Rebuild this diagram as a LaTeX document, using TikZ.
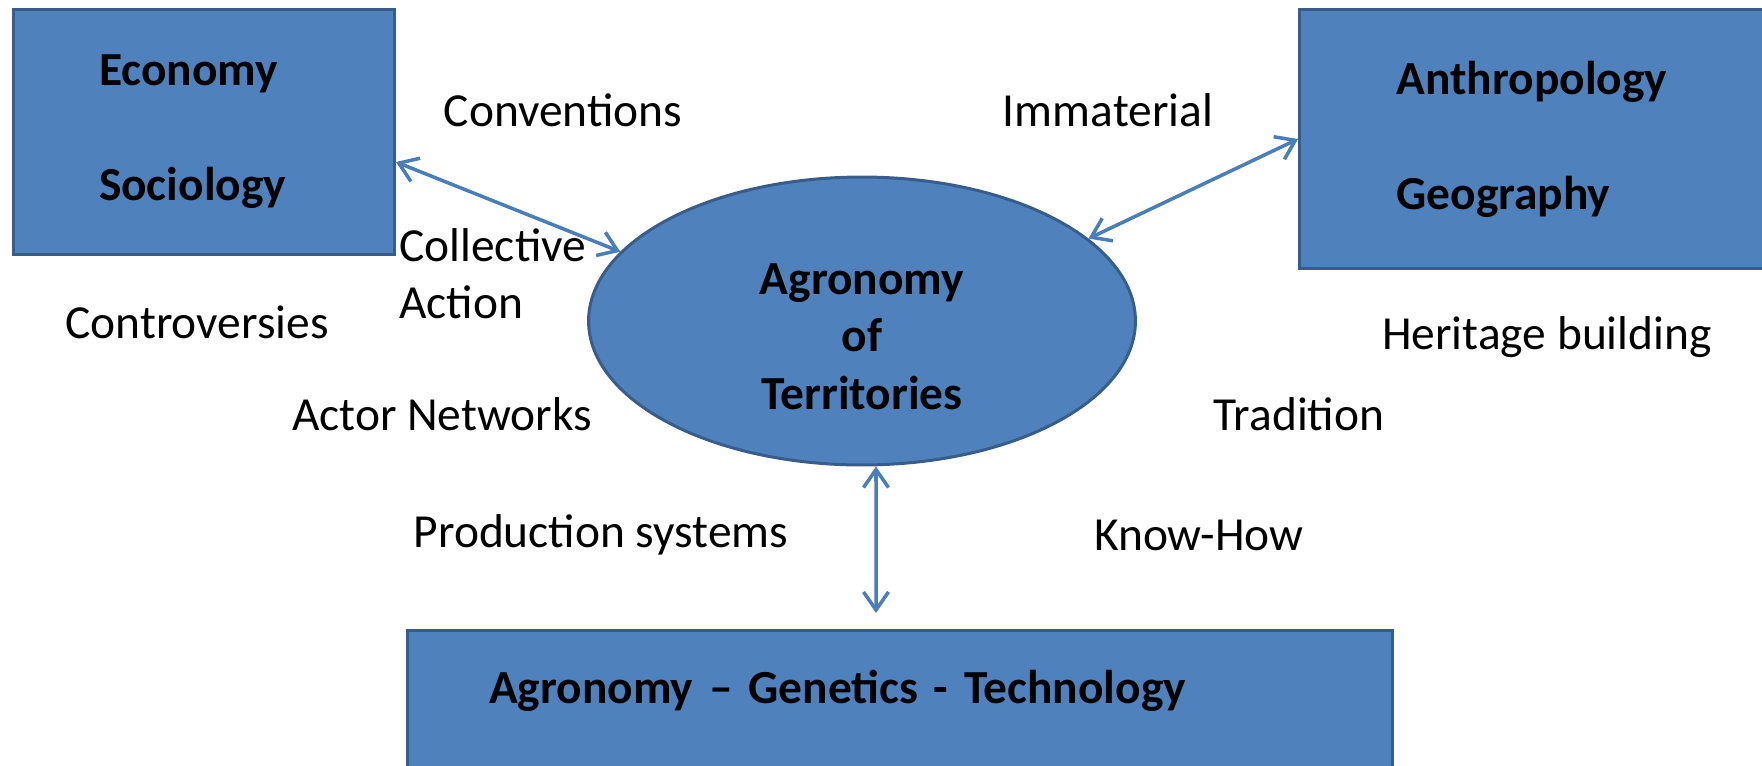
\documentclass[tikz,border=0pt]{standalone}
\usepackage{fontspec}
\setmainfont{Carlito}
\usetikzlibrary{shapes.geometric,arrows.meta}
\definecolor{boxblue}{HTML}{4F81BD}
\definecolor{boxline}{HTML}{385D8A}
\definecolor{arrowblue}{HTML}{4A7EBB}
\newcommand{\bigtext}{\fontsize{27}{32.5}\selectfont}
\tikzset{
	field/.style={draw=boxline, fill=boxblue, line width=1.7pt, font=\bigtext\bfseries, align=left, inner sep=0pt},
	hub/.style={ellipse, draw=boxline, fill=boxblue, line width=1.7pt, font=\bigtext\bfseries, align=center, inner sep=0pt, minimum width=10.94cm, minimum height=5.76cm},
	term/.style={font=\bigtext, inner sep=0pt},
	link/.style={arrowblue, line width=2pt, {Straight Barb[length=0.36cm,width=0.5cm]}-{Straight Barb[length=0.36cm,width=0.5cm]}}
}

\begin{document}
\begin{tikzpicture}[x=0.02cm, y=-0.02cm]
			%%%%% START %%%%%
			
			\useasboundingbox (0, 0) rectangle (1762, 765);
			\clip (0, 0) rectangle (1762, 765);
			
			\node[field, minimum width=7.62cm, minimum height=4.89cm, text width=4.2cm] (social) at (204, 132) {Economy\\[1.16cm]Sociology};
			\node[field, minimum width=9.82cm, minimum height=5.17cm, text width=5.94cm] (cultural) at (1545, 139) {Anthropology\\[1.16cm]Geography};
			\node[field, anchor=north, minimum width=19.72cm, text width=16.44cm, inner ysep=0.74cm, text height=0.72cm, text depth=2.5cm] (technical) at (900, 629) {Agronomy -- Genetics - Technology};
			
			\node[hub, text height=3.53cm] (agronomy) at (862, 321) {Agronomy\\of\\Territories};
			
			\node[term] (conventions) at (563, 110) {Conventions};
			\node[term] (immaterial) at (1108, 110) {Immaterial};
			\node[term, anchor=west, align=left] (collective) at (399, 274) {Collective\\Action};
			\node[term] (controversies) at (197, 322) {Controversies};
			\node[term] (actors) at (442, 414) {Actor Networks};
			\node[term] (heritage) at (1547, 337) {Heritage building};
			\node[term] (tradition) at (1299, 414) {Tradition};
			\node[term] (production) at (601, 535) {Production systems};
			\node[term] (knowhow) at (1199, 535) {Know-How};
			
			\draw[link] ([yshift=-0.6cm]social.east) -- (agronomy.164);
			\draw[link] (cultural.west) -- (agronomy.20);
			\draw[link] ([xshift=0.28cm]agronomy.south) -- ([xshift=-0.48cm, yshift=0.32cm]technical.north);
			
			%%%%% END %%%%%
\end{tikzpicture}
\end{document}
